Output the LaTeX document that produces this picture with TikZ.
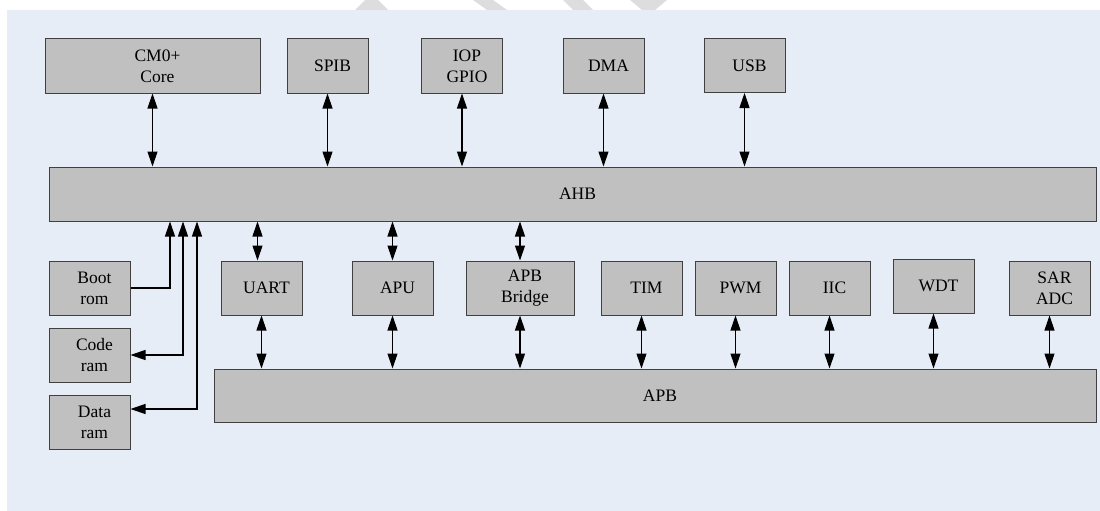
\documentclass[tikz,border=0pt]{standalone}
\usepackage{fontspec}
\setmainfont{Liberation Serif}
\usetikzlibrary{arrows.meta,calc}
\definecolor{panel}{HTML}{E6EDF7}
\definecolor{boxgray}{HTML}{C0C0C0}
\definecolor{boxline}{HTML}{404040}
\definecolor{wmark}{HTML}{DDDDDD}
\newcommand\tx[1]{\hspace*{10pt}#1}
\tikzset{
  blk/.style={draw=boxline, fill=boxgray, line width=1pt, inner sep=0pt,
    align=center, font=\fontsize{17.5}{21}\selectfont},
  small/.style={blk, minimum width=81, minimum height=54},
  arr/.style={{Triangle[length=15pt,width=10pt]}-{Triangle[length=15pt,width=10pt]}, line width=1.1pt, draw=black},
  arrone/.style={-{Triangle[length=15pt,width=10pt]}, line width=1.1pt, draw=black},
}
\begin{document}
\begin{tikzpicture}[x=1pt,y=-1pt]
\useasboundingbox (0,0) rectangle (1100,511);
% watermark slivers
\fill[wmark] (365,0) -- (378,0) -- (388,10) -- (355,10) -- cycle;
\fill[wmark] (473,0) -- (493,0) -- (507,10) -- (487,10) -- cycle;
\fill[wmark] (563,0) -- (583,0) -- (593,10) -- (573,10) -- cycle;
\fill[wmark] (630,0) -- (667,0) -- (655,10) -- (642,10) -- cycle;
% panel
\fill[panel] (7,10) rectangle (1100,511);

% top row
\node[blk, minimum width=215, minimum height=54] (cm0) at (152.5,66) {\tx{CM0+}\\\tx{Core}};
\node[small] (spib) at (327.5,66) {\tx{SPIB}};
\node[small] (iop) at (462,66) {\tx{IOP}\\\tx{GPIO}};
\node[small] (dma) at (603.5,66) {\tx{DMA}};
\node[small] (usb) at (744.5,65.5) {\tx{USB}};

% AHB
\node[blk, minimum width=1047, minimum height=54] (ahb) at (572.5,194) {\tx{AHB}};

% memories
\node[small] (boot) at (89.5,288) {\tx{Boot}\\\tx{rom}};
\node[small] (code) at (89.5,355) {\tx{Code}\\\tx{ram}};
\node[small] (data) at (89.5,422) {\tx{Data}\\\tx{ram}};

% peripherals
\node[small] (uart) at (261.5,288) {\tx{UART}};
\node[small] (apu) at (392.5,288) {\tx{APU}};
\node[blk, minimum width=108, minimum height=54] (bridge) at (520,288) {\tx{APB}\\\tx{Bridge}};
\node[small] (tim) at (641.5,288) {\tx{TIM}};
\node[small] (pwm) at (735.5,288) {\tx{PWM}};
\node[small] (iic) at (829.5,288) {\tx{IIC}};
\node[small] (wdt) at (933.5,286) {\tx{WDT}};
\node[small] (sar) at (1049.5,288) {\tx{SAR}\\\tx{ADC}};

% APB
\node[blk, minimum width=882, minimum height=53] (apb) at (655,395.5) {\tx{APB}};

% top arrows
\foreach \n in {cm0,spib,iop,dma,usb}
  \draw[arr] (\n.south) -- (\n.south |- ahb.north);

% AHB to peripherals
\draw[arr] ([xshift=-4pt]uart.north |- ahb.south) -- ([xshift=-4pt]uart.north);
\draw[arr] (apu.north |- ahb.south) -- (apu.north);
\draw[arr] (bridge.north |- ahb.south) -- (bridge.north);

% peripherals to APB
\foreach \n in {uart,apu,bridge,tim,pwm,iic,wdt,sar}
  \draw[arr] (\n.south) -- (\n.south |- apb.north);

% memories
\coordinate (bx) at (170,221);
\coordinate (cx) at (183,221);
\coordinate (dx) at (197,221);
\draw[arrone] (boot.east) -| (bx |- ahb.south);
\draw[arr] (cx |- ahb.south) |- (code.east);
\draw[arr] (dx |- ahb.south) |- ([yshift=13pt]data.east);
\end{tikzpicture}
\end{document}
